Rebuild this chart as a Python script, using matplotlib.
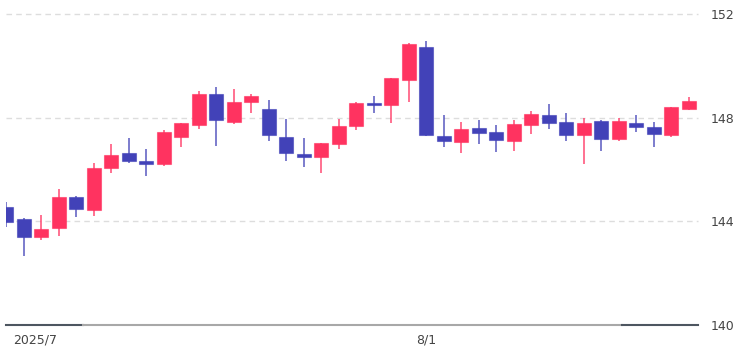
import matplotlib.pyplot as plt

# daily candles, 2025/6/30 .. 2025/8/22
dates = ["6/30", "7/1", "7/2", "7/3", "7/4", "7/7", "7/8", "7/9", "7/10", "7/11",
         "7/14", "7/15", "7/16", "7/17", "7/18", "7/21", "7/22", "7/23", "7/24", "7/25",
         "7/28", "7/29", "7/30", "7/31", "8/1", "8/4", "8/5", "8/6", "8/7", "8/8",
         "8/11", "8/12", "8/13", "8/14", "8/15", "8/18", "8/19", "8/20", "8/21", "8/22"]
opens = [144.54, 144.08, 143.40, 143.75, 144.94, 144.44, 146.05, 146.65, 146.33, 146.20,
         147.25, 147.72, 148.93, 147.85, 148.61, 148.33, 147.28, 146.61, 146.50, 146.99,
         147.68, 148.55, 148.49, 149.47, 150.74, 147.30, 147.08, 147.61, 147.46, 147.09,
         147.71, 148.11, 147.83, 147.35, 147.88, 147.19, 147.79, 147.64, 147.32, 148.33]
closes = [143.98, 143.40, 143.69, 144.95, 144.48, 146.07, 146.57, 146.34, 146.21, 147.45,
          147.81, 148.91, 147.90, 148.62, 148.84, 147.35, 146.65, 146.50, 147.01, 147.68,
          148.58, 148.48, 149.54, 150.86, 147.35, 147.10, 147.57, 147.40, 147.13, 147.76,
          148.16, 147.80, 147.35, 147.79, 147.19, 147.88, 147.66, 147.37, 148.41, 148.66]
highs = [144.76, 144.12, 144.24, 145.24, 144.98, 146.24, 146.99, 147.21, 146.79, 147.53,
         147.81, 149.05, 149.20, 149.11, 148.92, 148.69, 147.97, 147.22, 147.01, 147.97,
         148.61, 148.83, 149.54, 150.90, 150.96, 148.11, 147.85, 147.92, 147.72, 147.92,
         148.26, 148.53, 148.17, 147.98, 147.92, 148.00, 148.11, 147.83, 148.42, 148.80]
lows = [143.79, 142.67, 143.30, 143.44, 144.18, 144.22, 145.86, 146.26, 145.76, 146.15,
        146.86, 147.57, 146.92, 147.76, 148.20, 147.09, 146.32, 146.11, 145.87, 146.81,
        147.54, 148.17, 147.81, 148.61, 147.30, 146.88, 146.63, 146.99, 146.69, 146.73,
        147.36, 147.58, 147.10, 146.23, 146.73, 147.09, 147.46, 146.88, 147.27, 148.30]

x_labels = {"2025/7": 0.4, "8/1": 24}
y_ticks = [140, 144, 148, 152]

UP = "#ff3360"
DOWN = "#4242b8"

fig = plt.figure(figsize=(7.42, 3.48), dpi=100)
ax = fig.add_axes([6 / 742, 1 - 325 / 348, 692 / 742, (325 - 14.3) / 348])

xs = list(range(len(dates)))
cols = [UP if c >= o else DOWN for o, c in zip(opens, closes)]
bottoms = [min(o, c) for o, c in zip(opens, closes)]
heights = [max(abs(c - o), 0.08) for o, c in zip(opens, closes)]

ax.vlines(xs, lows, highs, colors=cols, linewidth=1.3, alpha=0.75, zorder=2)
ax.bar(xs, heights, bottom=bottoms, width=0.8, color=cols,
       edgecolor=[c + "99" for c in cols], linewidth=0.8, zorder=3)

for y in [144, 148, 152]:
    ax.axhline(y, color="#dddddd", linestyle=(0, (4, 3)), linewidth=1, zorder=1, clip_on=False)

ax.set_xlim(0, 39.52)
ax.set_ylim(140, 152)
for s in ax.spines.values():
    s.set_visible(False)

# two-tone bottom line
ax.plot([0, 0.111], [0, 0], color="#4d5660", lw=1.5, transform=ax.transAxes, clip_on=False)
ax.plot([0.111, 0.890], [0, 0], color="#a8a8a8", lw=1.5, transform=ax.transAxes, clip_on=False)
ax.plot([0.890, 1.0], [0, 0], color="#4d5660", lw=1.5, transform=ax.transAxes, clip_on=False)

ax.yaxis.tick_right()
ax.set_yticks(y_ticks)
ax.set_yticklabels([str(t) for t in y_ticks])
ax.tick_params(axis="y", length=0, pad=9, labelsize=9, labelcolor="#444444")
ax.set_xticks([])

trans = ax.get_xaxis_transform()
for lab, pos in x_labels.items():
    ax.text(pos, -0.048, lab, transform=trans, ha="left" if pos < 1 else "center",
            va="center", fontsize=9, color="#444444")

fig.savefig("out.png", dpi=100)
